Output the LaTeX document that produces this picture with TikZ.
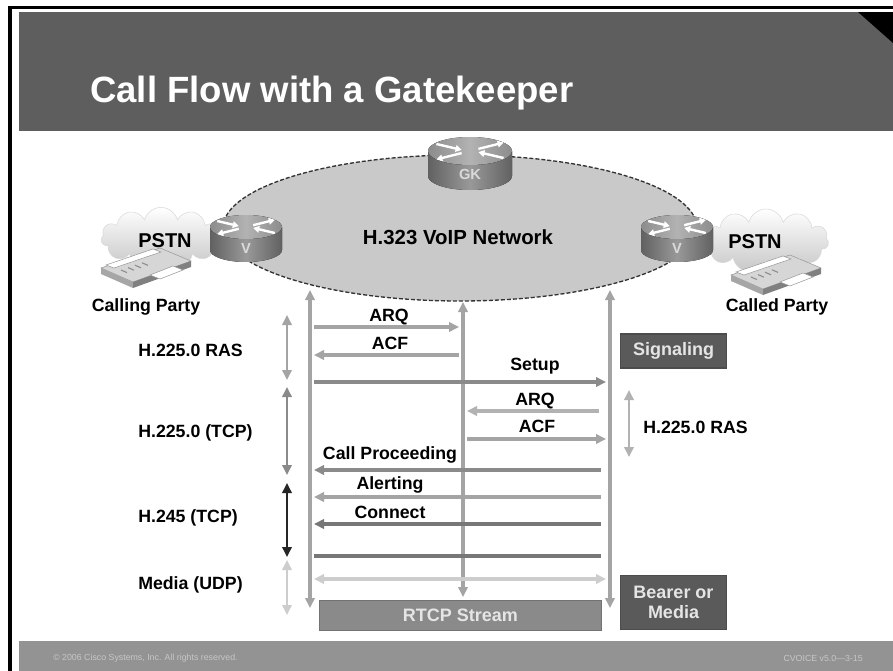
\documentclass[tikz,border=0pt]{standalone}
\usepackage{fontspec}
\setmainfont{Liberation Sans}
\usetikzlibrary{arrows.meta, calc, shapes.symbols}

\definecolor{hdrgray}{HTML}{5E5E5E}
\definecolor{ftrgray}{HTML}{939393}
\definecolor{netgray}{HTML}{C9C9C9}
\definecolor{linegray}{HTML}{A4A4A4}
\definecolor{midline}{HTML}{8A8A8A}
\definecolor{darkline}{HTML}{777777}
\definecolor{paleline}{HTML}{CDCDCD}
\definecolor{boxgray}{HTML}{5A5A5A}
\definecolor{rtcpgray}{HTML}{8A8A8A}

\begin{document}
\begin{tikzpicture}[x=0.75pt, y=-0.75pt, >={Triangle[length=7.5pt,width=7pt]},
  lbl/.style={font=\bfseries\fontsize{13.3}{15}\selectfont, inner sep=0pt},
  msg/.style={line width=2.3pt, shorten <=3pt, shorten >=3pt},
  tline/.style={line width=2.4pt, linegray, <->},
  span/.style={line width=1.8pt, <->},
  tag/.style={draw=black!70, fill=boxgray, text=white!90!black, inner sep=0pt,
    font=\bfseries\fontsize{13.5}{15}\selectfont, align=center, line width=0.8pt},
  pstn/.style={cloud, cloud puffs=11, aspect=2, inner sep=0pt, draw=black!15,
    top color=white, bottom color=black!22, font=\bfseries\fontsize{15}{17}\selectfont}
]
\useasboundingbox (0,0) rectangle (893,671);

% frame, header and footer
\fill[white] (0,0) rectangle (893,671);
\fill[black] (8,6) rectangle (893,9);
\fill[black] (8,6) rectangle (12,671);
\fill[hdrgray] (19,12) rectangle (893,131);
\fill[black] (858,12) -- (893,12) -- (893,43) -- cycle;
\fill[ftrgray] (19,641) rectangle (893,671);

\node[anchor=base west, inner sep=0pt, text=white,
  font=\bfseries\fontsize{27.4}{30}\selectfont] (title) at (90,102) {Call Flow with a Gatekeeper};
\node[anchor=west, inner sep=0pt, text=black!22, font=\fontsize{6.6}{7}\selectfont] (copy) at (53,658)
  {\textcopyright{} 2006 Cisco Systems, Inc. All rights reserved.};
\node[anchor=east, inner sep=0pt, text=black!22, font=\fontsize{6.6}{7}\selectfont] (pageno) at (863,658)
  {CVOICE v5.0---3-15};

% PSTN clouds with phones
\node[pstn, minimum width=90pt, minimum height=46pt] (pstnL) at (161,238) {};
\node[pstn, minimum width=94pt, minimum height=48pt] (pstnR) at (766,241) {};
\foreach \px/\py in {0/0, 630/7} {
  \begin{scope}[shift={(\px,\py)}]
    \filldraw[fill=black!16, draw=black!40, line width=0.4pt] (101,268) -- (160,248) -- (191,261) -- (133,282) -- cycle;
    \fill[black!35] (101,268) -- (133,282) -- (133,288) -- (101,274) -- cycle;
    \fill[black!50] (133,282) -- (191,261) -- (191,267) -- (133,288) -- cycle;
    \filldraw[fill=white, draw=black!40, line width=0.4pt] (106,265) -- (153,249) -- (161,252) -- (114,268) -- cycle;
    \filldraw[fill=white, draw=black!40, line width=0.4pt] (150,275) -- (173,266) -- (183,270) -- (160,279) -- cycle;
    \foreach \k in {0,1,2,3}
      \draw[black!45, line width=0.8pt] ($(121,270)+(\k*7,-2.4*\k)$) -- ++(6,2.6);
  \end{scope}
}
\node[font=\bfseries\fontsize{15}{17}\selectfont, inner sep=0pt] (pstnLlbl) at (165,241) {PSTN};
\node[font=\bfseries\fontsize{15}{17}\selectfont, inner sep=0pt] (pstnRlbl) at (755,242) {PSTN};

% the VoIP network
\filldraw[fill=netgray, draw=black!80, dashed, dash pattern=on 3pt off 1.5pt, line width=1pt]
  (460,228) ellipse [x radius=237, y radius=73];
\node[font=\bfseries\fontsize{15.3}{17}\selectfont, inner sep=0pt] (net) at (458,237) {H.323 VoIP Network};

% routers: centre x, top y, half width, top radius, body height, label
\foreach \cx/\cy/\rw/\re/\bh/\rl/\rn in {246/227/36/12/23/V/gwL, 677/227/36/12/23/V/gwR, 470/151/42/14/25/GK/gk} {
  \fill[left color=black!62, right color=black!62, middle color=black!40]
    (\cx-\rw,\cy) -- (\cx-\rw,\cy+\bh) arc[start angle=180, end angle=0, x radius=\rw, y radius=\re]
    -- (\cx+\rw,\cy) -- cycle;
  \fill[left color=black!45, right color=black!45, middle color=black!30]
    (\cx,\cy) ellipse [x radius=\rw, y radius=\re];
  \begin{scope}[white, line width=1.8pt, -{Triangle[length=4.5pt,width=5pt]}]
    \draw (\cx-0.8*\rw,\cy-0.5*\re) -- (\cx-0.2*\rw,\cy-0.08*\re);
    \draw (\cx-0.2*\rw,\cy+0.15*\re) -- (\cx-0.8*\rw,\cy+0.6*\re);
    \draw (\cx+0.2*\rw,\cy-0.15*\re) -- (\cx+0.8*\rw,\cy-0.6*\re);
    \draw (\cx+0.8*\rw,\cy+0.5*\re) -- (\cx+0.2*\rw,\cy+0.08*\re);
  \end{scope}
  \node[text=white!85!black, font=\bfseries\fontsize{11}{12}\selectfont, inner sep=0pt] (\rn) at (\cx,\cy+\bh-0.1*\re) {\rl};
}

\node[lbl] (calling) at (146,307) {Calling Party};
\node[lbl] (called) at (777,307) {Called Party};

% time lines
\coordinate (Ltop) at (310,290);  \coordinate (Lbot) at (310,608);
\coordinate (Mtop) at (463,302);  \coordinate (Mbot) at (463,597);
\coordinate (Rtop) at (610,290);  \coordinate (Rbot) at (610,608);
\draw[tline] (Ltop) -- (Lbot);
\draw[tline] (Mtop) -- (Mbot);
\draw[tline] (Rtop) -- (Rbot);

\foreach \r/\y in {1/327, 2/355, 3/382, 4/411, 5/439, 6/470, 7/497, 8/524, 9/556, 10/579}
  \coordinate (row\r) at (0,\y);

% messages
\draw[msg, ->, linegray] (Ltop |- row1) -- (Mtop |- row1);
\draw[msg, ->, linegray] (Mtop |- row2) -- (Ltop |- row2);
\draw[msg, ->, midline] (Ltop |- row3) -- (Rtop |- row3);
\draw[msg, ->, black!30, shorten <=8pt] (Rtop |- row4) -- (Mtop |- row4);
\draw[msg, ->, linegray] (Mtop |- row5) -- (Rtop |- row5);
\draw[msg, ->, midline, shorten <=7pt] (Rtop |- row6) -- (Ltop |- row6);
\draw[msg, ->, linegray, shorten <=7pt] (Rtop |- row7) -- (Ltop |- row7);
\draw[msg, ->, darkline, shorten <=7pt] (Rtop |- row8) -- (Ltop |- row8);
\draw[msg, darkline, shorten >=7pt] (Ltop |- row9) -- (Rtop |- row9);
\draw[msg, <->, paleline] (Ltop |- row10) -- (Rtop |- row10);

\node[lbl, anchor=base] (arqA) at (389,321) {ARQ};
\node[lbl, anchor=base] (acfA) at (390,349) {ACF};
\node[lbl, anchor=base] (setup) at (535,370) {Setup};
\node[lbl, anchor=base] (arqB) at (535,405) {ARQ};
\node[lbl, anchor=base] (acfB) at (537,432) {ACF};
\node[lbl, anchor=base] (proc) at (390,459) {Call Proceeding};
\node[lbl, anchor=base] (alert) at (390,489) {Alerting};
\node[lbl, anchor=base] (conn) at (390,518) {Connect};

% protocol spans on the left
\foreach \a/\b/\c in {315/380/linegray, 387/475/midline, 483/557/black!85, 560/615/paleline}
  \draw[span, \c] (287,\a) -- (287,\b);
\node[lbl, anchor=west] (ras) at (138,350) {H.225.0 RAS};
\node[lbl, anchor=west] (tcp) at (138,433) {H.225.0 (TCP)};
\node[lbl, anchor=west] (h245) at (138,518) {H.245 (TCP)};
\node[lbl, anchor=west] (udp) at (138,585) {Media (UDP)};

% called side
\draw[span, black!30] (629,390) -- (629,457);
\node[lbl, anchor=west] (rasR) at (643,427) {H.225.0 RAS};

\node[tag, minimum width=80pt, minimum height=25.5pt] (sig) at (673.5,351) {Signaling};
\node[tag, minimum width=80pt, minimum height=41pt] (bearer) at (673.5,602.5) {Bearer or\\Media};
\node[tag, fill=rtcpgray, draw=black!55, minimum width=211pt, minimum height=23pt] (rtcp) at (460.5,615.5) {RTCP Stream};

\end{tikzpicture}
\end{document}
